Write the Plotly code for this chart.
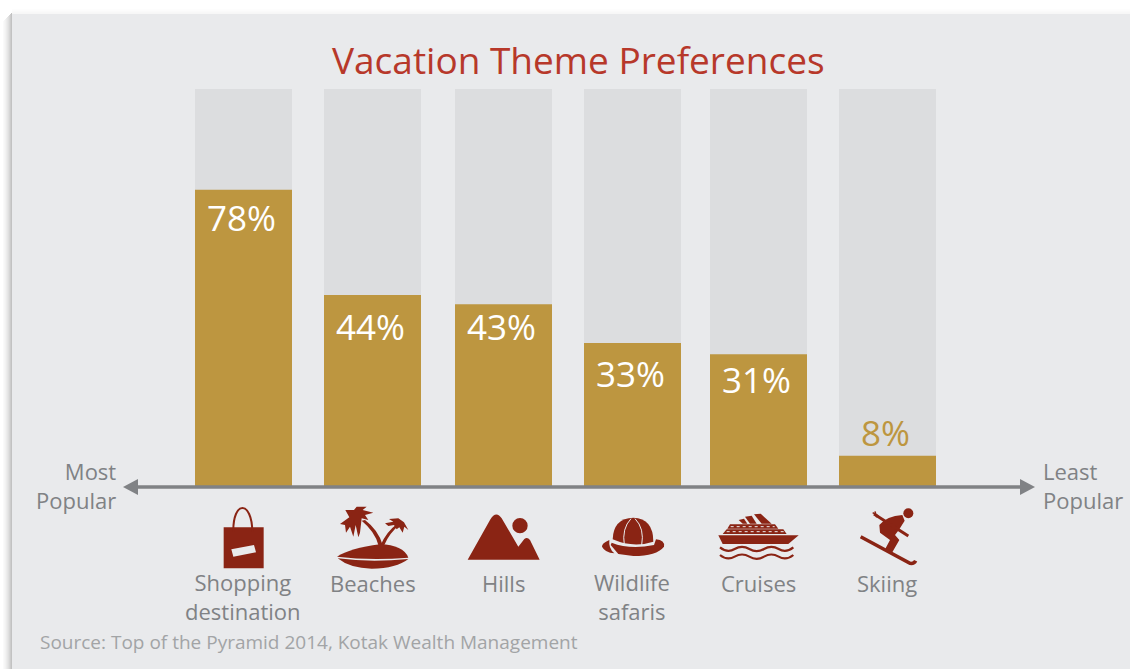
import re
import plotly.graph_objects as go

# ---- data ----
categories = [["Shopping", "destination"], ["Beaches"], ["Hills"], ["Wildlife", "safaris"], ["Cruises"], ["Skiing"]]
printed_values = [78, 44, 43, 33, 31, 8]              # the percentages printed on the bars
bar_heights = [74.6, 48.1, 45.8, 36.0, 33.2, 7.6]     # drawn heights, as % of the grey track
track_values = [100, 100, 100, 100, 100, 100]

# ---- layout constants ----
W, H = 1130, 669
BASE_PX, TOP_PX = 486.0, 89.0
K = (BASE_PX - TOP_PX) / 100.0
def Y(py):
    return (BASE_PX - py) / K

bar_centres = [243.5, 372.5, 503.5, 632.5, 758.5, 887.5]
label_x = [243, 373, 503, 632, 758, 887]
pct_x = [241, 370, 501, 630, 756, 885]
pct_y = [217, 326, 326, 373, 379, 432]
BAR_W = 97
GOLD, TRACK, PANEL = "#BD9640", "#DCDDDF", "#E9EAEC"
RED, ICON, GREY, LIGHT = "#B7382A", "#8A2414", "#808285", "#A2A4A6"
FONT = "Open Sans"

fig = go.Figure()
fig.add_bar(x=bar_centres, y=track_values, width=BAR_W, marker=dict(color=TRACK, line_width=0), hoverinfo="skip")
fig.add_bar(x=bar_centres, y=bar_heights, width=BAR_W, marker=dict(color=GOLD, line_width=0), hoverinfo="skip")

shapes, ann = [], []

def rect(x0, y0, x1, y1, color, opacity=1.0, layer="below"):
    shapes.append(dict(type="rect", x0=x0, x1=x1, y0=Y(y0), y1=Y(y1), fillcolor=color, opacity=opacity,
                       line_width=0, layer=layer, xref="x", yref="y"))

def path(d, ox, oy, fill=ICON, line=None, width=0, dash=None, s=3.0):
    """d is in 3x crop coordinates; ox, oy are the crop origin in pixels."""
    toks = re.findall(r"[MLQCTSZ]|-?\d+\.?\d*", d)
    out, is_x = [], True
    for t in toks:
        if t.isalpha():
            out.append(t); is_x = True
        else:
            v = float(t)
            out.append(f"{ox + v / s:.2f}" if is_x else f"{Y(oy + v / s):.3f}")
            is_x = not is_x
    ln = dict(width=width, color=line or "rgba(0,0,0,0)")
    if dash:
        ln["dash"] = dash
    shapes.append(dict(type="path", path=" ".join(out), fillcolor=fill or "rgba(0,0,0,0)",
                       line=ln, layer="above", xref="x", yref="y"))

def circle(cx, cy, r, ox, oy, fill=ICON):
    shapes.append(dict(type="circle", x0=ox + (cx - r) / 3, x1=ox + (cx + r) / 3,
                       y0=Y(oy + (cy - r) / 3), y1=Y(oy + (cy + r) / 3),
                       fillcolor=fill, line_width=0, layer="above", xref="x", yref="y"))

def text(x, y, s, size, color, anchor="center"):
    ann.append(dict(x=x, y=Y(y), text=s, showarrow=False, xanchor=anchor, yanchor="middle", borderpad=0,
                    font=dict(family=FONT, size=size, color=color), xref="x", yref="y"))

# panel and soft shadows
for i, o in enumerate([0.03, 0.05, 0.08, 0.11, 0.15, 0.19, 0.24, 0.3, 0.36]):
    rect(3 + i, 12 + (9 - i), 4 + i, 669, "#555555", o)
for i, o in enumerate([0.015, 0.025, 0.04, 0.05, 0.06]):
    rect(12, 9 + i, 1130, 10 + i, "#777777", o)
rect(12, 14, 1130, 669, PANEL)

# arrow
AY = 487.0
shapes.append(dict(type="line", x0=135, x1=1023, y0=Y(AY), y1=Y(AY), line=dict(color=GREY, width=3.5),
                   layer="above", xref="x", yref="y"))
path("M 0 0 L 45 -24 L 45 24 Z", 123, AY, fill=GREY)
path("M 0 0 L -45 -24 L -45 24 Z", 1035, AY, fill=GREY)

# ---- icons ----
O1, O2 = (190, 490), (570, 490)
# bag
path("M 101 112 L 221 112 L 221 235 L 101 235 Z", *O1)
path("M 130 126 C 128 30 186 30 187 126", *O1, fill=None, line=ICON, width=2)
path("M 124 178 L 192 165 L 198 187 L 130 200 Z", *O1, fill=PANEL)
# island
path("M 441 200 Q 480 175 570 163 Q 640 165 655 203 Q 540 212 441 200 Z", *O1)
path("M 443 205 Q 540 218 655 207 Q 620 235 545 236 Q 480 235 443 205 Z", *O1)
path("M 565 165 Q 555 125 515 92 L 525 90 Q 565 120 578 165 Z", *O1)
path("M 466 60 L 492 60 L 500 50 L 530 50 L 518 60 L 550 68 L 525 75 L 535 90 L 515 85 L 510 128 L 505 142 L 497 105 L 490 140 L 480 110 L 468 128 L 465 105 L 450 102 L 478 82 Z", *O1)
path("M 572 165 Q 590 125 620 103 L 627 106 Q 598 130 583 165 Z", *O1)
path("M 585 100 L 610 95 L 597 87 L 625 85 L 642 97 L 655 120 L 643 110 L 638 128 L 628 112 L 620 118 L 612 105 L 595 108 Z", *O1)
# hills
path("M 833 209 L 900 90 Q 918 60 935 85 L 985 170 L 1003 147 Q 1012 140 1020 150 L 1049 209 Z", *O1)
circle(990, 107, 23, *O1)
# hat
path("M 128 148 Q 130 85 190 83 Q 250 85 250 155 Q 190 175 128 148 Z", *O2)
path("M 258 148 Q 285 150 282 170 Q 260 198 190 198 L 145 192 L 122 165 L 125 158 Q 180 180 252 165 Z", *O2)
path("M 118 150 Q 95 160 96 170 Q 105 188 133 190 Q 115 175 118 150 Z", *O2)
path("M 163 166 Q 155 115 183 86", *O2, fill=None, line=PANEL, width=1)
path("M 215 166 Q 224 115 195 86", *O2, fill=None, line=PANEL, width=1)
# ship
path("M 445 136 L 686 136 L 655 162 L 458 162 Z", *O2)
path("M 458 132 L 650 132 L 640 118 L 470 118 Z", *O2)
path("M 472 116 L 625 116 L 615 103 L 480 103 Z", *O2)
path("M 506 90 L 522 86 L 532 101 L 518 101 Z", *O2)
path("M 525 80 L 545 77 L 560 101 L 540 101 Z", *O2)
path("M 552 73 L 572 71 L 605 101 L 575 101 Z", *O2)
path("M 470 125 L 642 125", *O2, fill=None, line=PANEL, width=1, dash="dot")
path("M 482 110 L 614 110", *O2, fill=None, line=PANEL, width=1, dash="dot")
path("M 450 172 Q 472 190 494 177 T 538 177 T 582 177 T 626 177 T 670 172", *O2, fill=None, line=ICON, width=2.2)
path("M 450 195 Q 472 213 494 200 T 538 200 T 582 200 T 626 200 T 670 195", *O2, fill=None, line=ICON, width=2.2)
# skier
circle(1015, 70, 15, *O2)
path("M 928 105 Q 950 78 997 75 L 1004 92 L 988 118 L 975 135 L 988 150 L 966 188 L 944 180 L 960 150 L 930 128 Z", *O2)
path("M 912 72 L 1015 138", *O2, fill=None, line=ICON, width=3)
path("M 872 140 L 1020 220 Q 1032 222 1037 212", *O2, fill=None, line=ICON, width=3.5)
path("M 908 68 L 925 78 M 915 64 L 920 82", *O2, fill=None, line=ICON, width=1.5)

# ---- text ----
text(578, 59, "Vacation Theme Preferences", 37, RED)
for v, x, y in zip(printed_values, pct_x, pct_y):
    text(x, y, f"{v}%", 35, GOLD if v < 10 else "#FFFFFF")
for cat, x in zip(categories, label_x):
    text(x, 583 + 13 * (len(cat) - 1), "<br>".join(cat), 22, GREY)
text(117, 485, "Most<br>Popular", 22, GREY, "right")
text(1042, 485, "Least<br>Popular", 22, GREY, "left")
ann[-2]["align"] = "right"
ann[-1]["align"] = "left"
text(39, 642, "Source: Top of the Pyramid 2014, Kotak Wealth Management", 19, LIGHT, "left")

fig.update_layout(
    width=W, height=H, margin=dict(l=0, r=0, t=0, b=0), barmode="overlay", showlegend=False,
    paper_bgcolor="#FFFFFF", plot_bgcolor="rgba(0,0,0,0)", shapes=shapes, annotations=ann,
    xaxis=dict(range=[0, W], visible=False, fixedrange=True),
    yaxis=dict(range=[Y(H), Y(0)], visible=False, fixedrange=True),
)
fig.write_html("out.html", config=dict(displayModeBar=False),
               post_script="document.body.style.margin='0';document.documentElement.style.overflow='hidden';")
